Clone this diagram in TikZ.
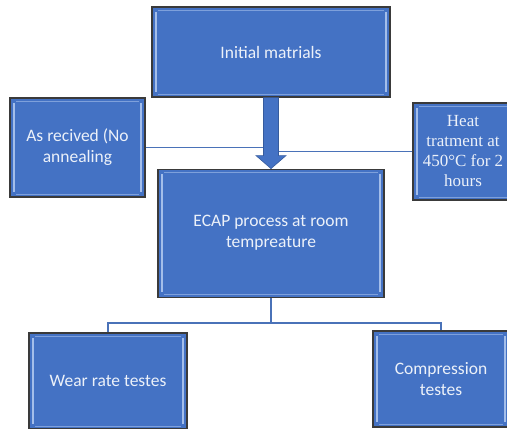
\documentclass[tikz,border=0pt]{standalone}
\usepackage{fontspec}
\setmainfont{Carlito}
\newfontfamily\heatfont{Liberation Serif}
\usetikzlibrary{positioning}

\definecolor{boxblue}{HTML}{4472C4}
\definecolor{bevelblue}{HTML}{A4BEEA}
\definecolor{edgegray}{HTML}{3A3A3A}
\definecolor{linkblue}{HTML}{4A72B8}

\begin{document}
\begin{tikzpicture}[x=1pt,y=-1pt]
    \tikzstyle{block} = [rectangle, draw=edgegray, line width=1.2pt,
        fill=boxblue, text=white!90!boxblue, align=center, inner sep=0pt,
        font=\fontsize{17.5}{21}\selectfont,
        path picture={
          \draw[bevelblue, line width=1.6pt]
            ([xshift=4pt,yshift=-5pt]path picture bounding box.north west) --
            ([xshift=4pt,yshift=5pt]path picture bounding box.south west);
          \draw[bevelblue, line width=1.6pt]
            ([xshift=-4pt,yshift=-5pt]path picture bounding box.north east) --
            ([xshift=-4pt,yshift=5pt]path picture bounding box.south east);
          \draw[bevelblue!60!boxblue, line width=1pt]
            ([xshift=6pt,yshift=-3pt]path picture bounding box.north west) --
            ([xshift=-6pt,yshift=-3pt]path picture bounding box.north east);
          \draw[bevelblue!60!boxblue, line width=1pt]
            ([xshift=6pt,yshift=3pt]path picture bounding box.south west) --
            ([xshift=-6pt,yshift=3pt]path picture bounding box.south east);
        }]
    \tikzstyle{link} = [draw=linkblue, line width=1.4pt]
    \tikzstyle{bigarrow} = [fill=boxblue, draw=boxblue!80!black, line width=0.6pt]

    \useasboundingbox (0,0) rectangle (507,429);
    \clip (0,0) rectangle (507,429);

    % Start
    \node[block, minimum width=238pt, minimum height=90pt] (init) at (271,52)
        {Initial matrials};
    \node[block, minimum width=135pt, minimum height=99pt] (asrec) at (77.5,147.5)
        {As recived (No\\annealing};
    \node[block, minimum width=100pt, minimum height=97pt,
        font=\heatfont\fontsize{17}{20}\selectfont] (heat) at (463,151.5)
        {Heat\\tratment at\\450\textdegree C for 2\\hours};
    \draw[link] (asrec.east) -- (asrec.east -| init.south);
    \draw[link] (init.south |- heat.west) -- (heat.west);

    % ECAP
    \node[block, minimum width=226pt, minimum height=128pt, below=71pt of init]
        (ecap) {ECAP process at room\\tempreature};
    \path[bigarrow] ([xshift=-7.5pt]init.south)
        -- ([xshift=-7.5pt,yshift=13pt]ecap.north)
        -- ([xshift=-15pt,yshift=13pt]ecap.north)
        -- (ecap.north)
        -- ([xshift=15pt,yshift=13pt]ecap.north)
        -- ([xshift=7.5pt,yshift=13pt]ecap.north)
        -- ([xshift=7.5pt]init.south) -- cycle;

    % Tests
    \node[block, minimum width=158pt, minimum height=96pt] (wear) at (108,381)
        {Wear rate testes};
    \node[block, minimum width=136pt, minimum height=96pt] (comp) at (441,379)
        {Compression\\testes};
    \coordinate[below=25pt of ecap.south] (fork);
    \draw[link] (ecap.south) -- (fork) -| (wear.north);
    \draw[link] (fork) -| (comp.north);
\end{tikzpicture}
\end{document}
